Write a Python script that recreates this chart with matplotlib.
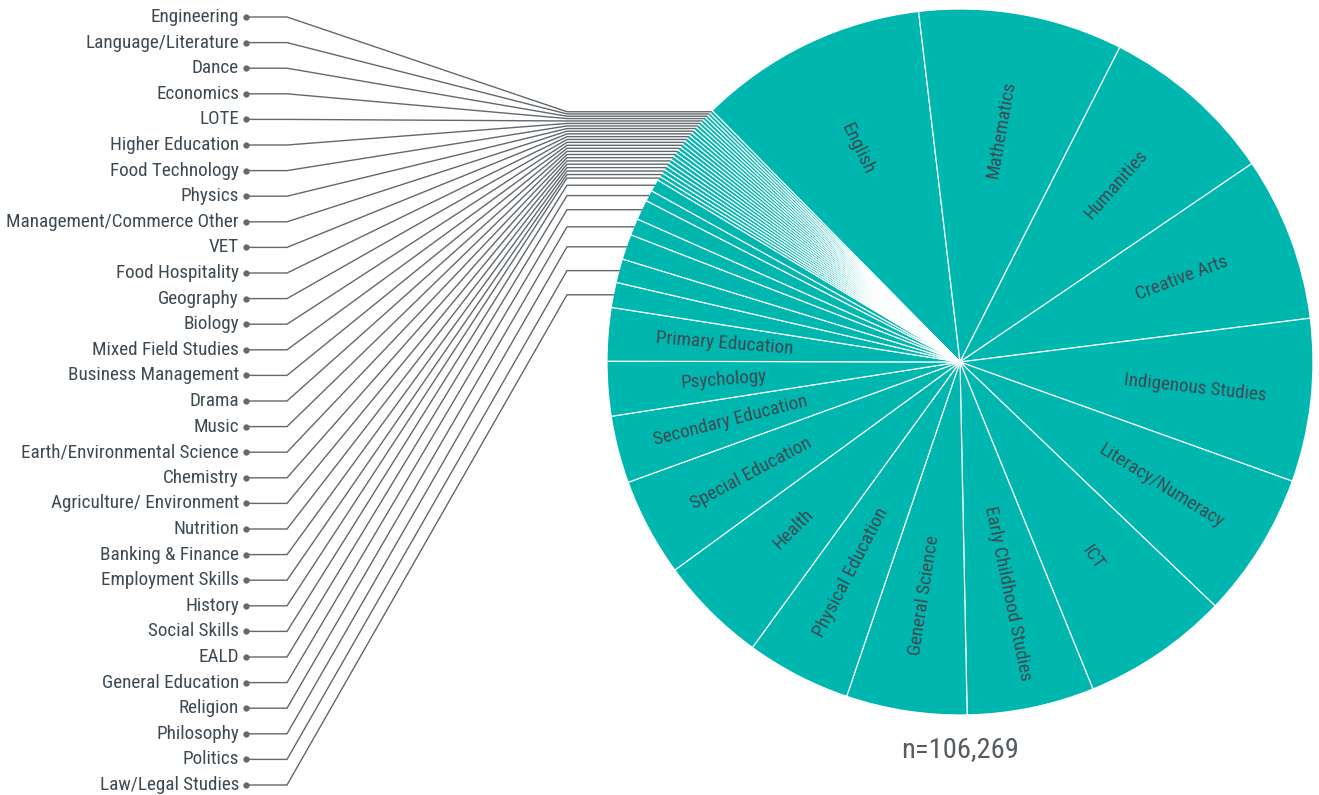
import numpy as np
import matplotlib
matplotlib.use("Agg")
import matplotlib.pyplot as plt

# big slices, clockwise from English (percent of n)
big_labels = ["English", "Mathematics", "Humanities", "Creative Arts", "Indigenous Studies",
              "Literacy/Numeracy", "ICT", "Early Childhood Studies", "General Science",
              "Physical Education", "Health", "Special Education", "Secondary Education",
              "Psychology", "Primary Education"]
big_values = [10.53, 9.36, 8.03, 7.53, 7.47, 6.67, 6.72, 5.83, 5.53, 4.81, 4.97, 4.50,
              3.08, 2.50, 2.44]

# small slices, listed top to bottom as in the left legend
small_labels = ["Engineering", "Language/Literature", "Dance", "Economics", "LOTE",
                "Higher Education", "Food Technology", "Physics", "Management/Commerce Other",
                "VET", "Food Hospitality", "Geography", "Biology", "Mixed Field Studies",
                "Business Management", "Drama", "Music", "Earth/Environmental Science",
                "Chemistry", "Agriculture/ Environment", "Nutrition", "Banking & Finance",
                "Employment Skills", "History", "Social Skills", "EALD", "General Education",
                "Religion", "Philosophy", "Politics", "Law/Legal Studies"]
small_values = [0.14, 0.142, 0.145, 0.148, 0.15, 0.152, 0.155, 0.157, 0.16, 0.162,
                0.164, 0.166, 0.168, 0.17, 0.172, 0.174, 0.176, 0.178, 0.18, 0.182,
                0.184, 0.186, 0.188, 0.19, 0.56, 0.51, 0.92, 0.77, 1.16, 1.09, 1.15]

n_total = "n=106,269"

TEAL = "#00b7b0"
TXT = "#3e4a52"
LINE = "#62686d"
FONT = ["Roboto Condensed", "Liberation Sans Narrow", "DejaVu Sans"]

W, H = 1319, 795
fig = plt.figure(figsize=(W / 100, H / 100), dpi=100)
ax = fig.add_axes([0, 0, 1, 1])

cx, cy, r = 960, H - 362, 353

# pie goes clockwise: big ones, then small ones from Law up to Engineering
values = big_values + small_values[::-1]
wedges, _ = ax.pie(values, colors=[TEAL] * len(values), startangle=134.6, counterclock=False,
                   center=(cx, cy), radius=r,
                   wedgeprops=dict(edgecolor="white", linewidth=0.85))

ax.set_xlim(0, W)
ax.set_ylim(0, H)
ax.set_aspect("equal")
ax.axis("off")

# labels inside the big slices
for w, lab in zip(wedges[:len(big_labels)], big_labels):
    mid = (w.theta1 + w.theta2) / 2
    a = np.deg2rad(mid)
    x = cx + 0.67 * r * np.cos(a)
    y = cy + 0.67 * r * np.sin(a)
    m = (mid + 180) % 360 - 180
    rot = m if -90 <= m <= 90 else m - 180
    ax.text(x, y, lab, rotation=rot, rotation_mode="anchor", ha="center", va="center",
            fontsize=13.8, color=TXT, family=FONT, stretch="condensed")

# leader lines for the small slices
x_dot, x_bend1, x_bend2 = 246, 287, 567
small_wedges = wedges[len(big_labels):][::-1]  # same order as small_labels
for i, (w, lab) in enumerate(zip(small_wedges, small_labels)):
    ly = H - (17 + i * 25.6)
    mid = np.deg2rad((w.theta1 + w.theta2) / 2)
    ex = cx + r * np.cos(mid)
    ey = cy + r * np.sin(mid)
    ax.plot([x_dot, x_bend1, x_bend2, ex], [ly, ly, ey, ey], color=LINE, lw=1.0,
            solid_joinstyle="miter")
    ax.plot([x_dot], [ly], "o", color=LINE, ms=3.5)
    ax.text(x_dot - 7, ly, lab, ha="right", va="center", fontsize=13.8, color=TXT,
            family=FONT, stretch="condensed")

ax.text(cx, H - 750, n_total, ha="center", va="center", fontsize=20.5, color="#555b60",
        family=FONT, stretch="condensed")

fig.savefig("out.png", dpi=100)
